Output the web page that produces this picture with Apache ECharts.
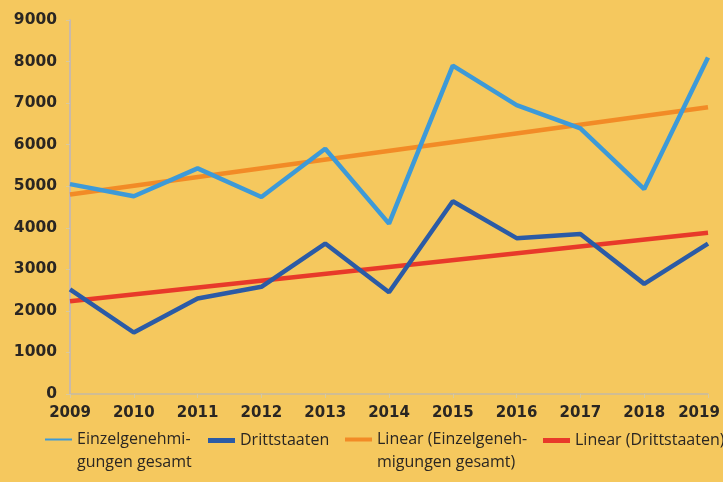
<!DOCTYPE html>
<html><head><meta charset="utf-8">
<script src="https://cdn.jsdelivr.net/npm/echarts@6/dist/echarts.min.js"></script>
<style>html,body{margin:0;padding:0;background:#f5c85e;}#c{width:723px;height:482px;}</style>
</head><body><div id="c"></div>
<script>
const years = ['2009','2010','2011','2012','2013','2014','2015','2016','2017','2018','2019'];
const einzel = [5050, 4760, 5430, 4740, 5900, 4100, 7900, 6950, 6390, 4930, 8100];
const dritt = [2520, 1480, 2300, 2580, 3620, 2450, 4640, 3750, 3850, 2650, 3620];
const trendEinzelEnds = [4800, 6900];
const trendDrittEnds = [2230, 3880];
const yTicks = [0, 9000, 1000];
const names = ['Einzelgenehmigungen gesamt', 'Drittstaaten', 'Linear (Einzelgenehmigungen gesamt)', 'Linear (Drittstaaten)'];
const legendLabels = [' \nEinzelgenehmi-\ngungen gesamt', 'Drittstaaten', ' \nLinear (Einzelgeneh-\nmigungen gesamt)', 'Linear (Drittstaaten)'];
const colors = ['#3d9ad8', '#2b5ba6', '#f28b26', '#e8392a'];

const font = "'Open Sans', 'Noto Sans', sans-serif";
const numFont = "'DejaVu Sans', sans-serif";
const chart = echarts.init(document.getElementById('c'));
function legendAt(i, left, top, iconH) {
  return {
    data: [names[i]], left: left, top: top, padding: 0, itemWidth: 27, itemHeight: iconH, icon: 'rect',
    itemStyle: {color: colors[i]},
    formatter: () => legendLabels[i],
    textStyle: {fontFamily: font, fontSize: 16, color: '#2a2622', lineHeight: 23},
    selectedMode: false, itemGap: 0
  };
}
const numStyle = {fontFamily: numFont, fontSize: 15, fontWeight: 'bold', color: '#2a2622'};
chart.setOption({
  backgroundColor: '#f5c85e',
  animation: false,
  grid: {left: 70, right: 15, top: 20, bottom: 88, containLabel: false, outerBoundsMode: 'none'},
  xAxis: {
    type: 'category', data: years, boundaryGap: false,
    axisLine: {lineStyle: {color: '#c3b9a6', width: 1.5}},
    axisTick: {show: true, interval: 0, length: 4, lineStyle: {color: '#d8c9a0'}},
    axisLabel: Object.assign({}, numStyle, {margin: 12, interval: 0, hideOverlap: false,
      formatter: (v, i) => i === years.length - 1 ? '{last|' + v + '}' : v,
      rich: {last: Object.assign({}, numStyle, {padding: [0, 18, 0, 0]})}})
  },
  yAxis: {
    type: 'value', min: yTicks[0], max: yTicks[1], interval: yTicks[2],
    axisLine: {show: true, lineStyle: {color: '#b9b4c4', width: 1.5}},
    axisTick: {show: true, length: 4, lineStyle: {color: '#d8c9a0'}},
    splitLine: {show: false},
    axisLabel: Object.assign({}, numStyle, {fontSize: 15.5, margin: 13, formatter: v => String(v)})
  },
  legend: [legendAt(0, 45, 405, 2), legendAt(1, 208, 429, 5), legendAt(2, 345, 405, 4), legendAt(3, 543, 429, 5)],
  series: [
    {name: names[2], type: 'line', data: [[years[0], trendEinzelEnds[0]], [years[years.length-1], trendEinzelEnds[1]]],
      showSymbol: false, lineStyle: {color: colors[2], width: 4.5}, itemStyle: {color: colors[2]}, z: 2},
    {name: names[3], type: 'line', data: [[years[0], trendDrittEnds[0]], [years[years.length-1], trendDrittEnds[1]]],
      showSymbol: false, lineStyle: {color: colors[3], width: 4.5}, itemStyle: {color: colors[3]}, z: 2},
    {name: names[0], type: 'line', data: einzel, showSymbol: false,
      lineStyle: {color: colors[0], width: 4.5}, itemStyle: {color: colors[0]}, z: 3},
    {name: names[1], type: 'line', data: dritt, showSymbol: false,
      lineStyle: {color: colors[1], width: 4.5}, itemStyle: {color: colors[1]}, z: 3}
  ]
});
</script></body></html>
